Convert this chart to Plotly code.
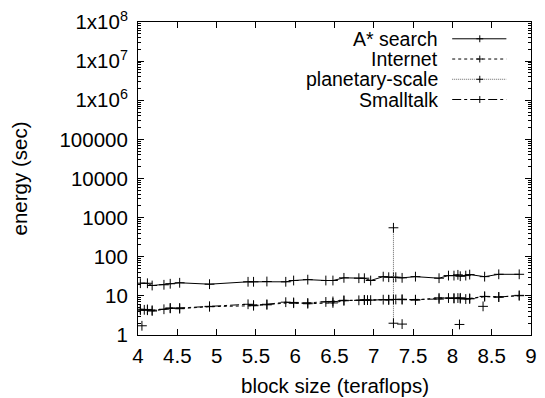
import plotly.graph_objects as go

# ---- data ----
astar_x = [4.03, 4.12, 4.18, 4.33, 4.41, 4.53, 4.91, 5.40, 5.47, 5.64, 5.88, 5.98, 6.16,
           6.39, 6.48, 6.62, 6.81, 6.88, 6.96, 7.12, 7.19, 7.25, 7.28, 7.36, 7.53, 7.83,
           7.95, 8.02, 8.07, 8.10, 8.17, 8.22, 8.41, 8.59, 8.85]
astar_y = [21.1, 21.0, 18.4, 19.2, 20.4, 21.6, 19.9, 22.9, 22.9, 23.3, 22.9, 24.7, 26.0,
           24.7, 24.7, 28.9, 28.3, 28.3, 24.7, 31.0, 30.0, 30.0, 30.0, 28.9, 31.0, 28.3,
           33.0, 33.0, 34.5, 31.8, 33.0, 35.0, 31.0, 35.6, 35.6]

internet_x = [4.03, 4.12, 4.18, 4.41, 4.53, 4.91, 5.47, 5.64, 5.98, 6.16, 6.48, 6.62,
              6.88, 7.19, 7.36, 7.53, 7.83, 8.02, 8.10, 8.22, 8.41, 8.59, 8.85]
internet_y = [4.3, 4.5, 4.1, 4.8, 4.7, 5.3, 5.6, 5.9, 6.8, 6.3, 6.6, 7.5,
              7.9, 7.9, 8.2, 7.8, 8.9, 8.7, 8.9, 8.4, 9.6, 9.4, 10.1]

planet_x = [4.05, None, 7.25, 7.25, None, 7.36, None, 8.09, None, 8.39]
planet_y = [1.72, None, 2.0, 550, None, 1.9, None, 1.86, None, 5.4]

small_x = [4.03, 4.08, 4.12, 4.18, 4.33, 4.41, 4.53, 4.91, 5.40, 5.47, 5.64, 5.88, 5.98,
           6.16, 6.39, 6.48, 6.62, 6.81, 6.88, 6.92, 6.96, 7.12, 7.19, 7.25, 7.28, 7.36,
           7.53, 7.83, 7.95, 8.02, 8.07, 8.10, 8.17, 8.22, 8.41, 8.59, 8.85]
small_y = [4.55, 4.4, 4.3, 4.3, 4.55, 4.9, 4.9, 5.4, 6.1, 5.8, 6.1, 6.9, 6.5,
           6.6, 7.0, 7.2, 7.7, 7.7, 7.8, 7.8, 7.8, 8.0, 8.0, 8.1, 8.1, 8.0,
           8.0, 8.3, 8.8, 8.6, 8.8, 8.5, 8.3, 8.6, 9.7, 9.3, 10.3]

series_names = ["A* search", "Internet", "planetary-scale", "Smalltalk"]
x_ticks = [4, 4.5, 5, 5.5, 6, 6.5, 7, 7.5, 8, 8.5, 9]
y_ticks = [1, 10, 100, 1000, 10000, 100000, 1e6, 1e7, 1e8]
y_tick_text = ["1", "10", "100", "1000", "10000", "100000",
               "1x10<sup>6</sup>", "1x10<sup>7</sup>", "1x10<sup>8</sup>"]
x_title = "block size (teraflops)"
y_title = "energy (sec)"

FONT = "Liberation Sans, Arial, sans-serif"
FS = 20.5
FS_KEY = 19.5

styles = [
    dict(dash="solid", color="black"),
    dict(dash="dot", color="black"),
    dict(dash="1px,1px", color="#666666"),
    dict(dash="dashdot", color="black"),
]
data = [(astar_x, astar_y), (internet_x, internet_y), (planet_x, planet_y), (small_x, small_y)]

fig = go.Figure()
for (xs, ys), name, st in zip(data, series_names, styles):
    fig.add_trace(go.Scatter(
        x=xs, y=ys, name=name, mode="lines+markers", connectgaps=False,
        line=dict(color=st["color"], width=1, dash=st["dash"]),
        marker=dict(symbol="cross-thin", size=7, line=dict(color="black", width=1)),
        showlegend=False, hoverinfo="skip",
    ))

minor_vals = []
for k in range(0, 8):
    for m in range(2, 10):
        minor_vals.append(m * 10 ** k)

fig.update_xaxes(
    range=[4, 9], tickvals=x_ticks, ticktext=[f"{v:g}" for v in x_ticks],
    ticks="inside", ticklen=6, tickcolor="black", mirror="allticks",
    showline=True, linecolor="black", linewidth=1, showgrid=False, zeroline=False,
    ticklabelstandoff=2,
    tickfont=dict(family=FONT, size=FS, color="black"),
)
fig.update_yaxes(
    type="log", range=[0, 8], tickvals=y_ticks, ticktext=y_tick_text,
    ticks="inside", ticklen=6, tickcolor="black", mirror="allticks",
    showline=True, linecolor="black", linewidth=1, showgrid=False, zeroline=False,
    ticklabelstandoff=5,
    minor=dict(tickvals=minor_vals, ticks="inside", ticklen=3, tickcolor="black", showgrid=False),
    title=dict(text=y_title, font=dict(family=FONT, size=FS, color="black"), standoff=26),
    tickfont=dict(family=FONT, size=FS, color="black"),
)

L, R, T, B = 138, 537, 18, 335
W, H = R - L, B - T
def px(x): return (x - L) / W
def py(y): return (B - y) / H

fig.add_annotation(x=0.5, y=py(386), xref="paper", yref="paper", text=x_title,
                   showarrow=False, xanchor="center", yanchor="middle",
                   font=dict(family=FONT, size=FS, color="black"))

# gnuplot-style key (text then sample) in the top-right corner
leg_y = [35, 55.5, 76, 96.5]
for name, st, yy in zip(series_names, styles, leg_y):
    fig.add_annotation(x=px(444), y=py(yy), xref="paper", yref="paper", text=name,
                       showarrow=False, xanchor="right", yanchor="middle", borderpad=0,
                       font=dict(family=FONT, size=FS_KEY, color="black"))
    fig.add_shape(type="line", xref="paper", yref="paper", x0=px(457), x1=px(512),
                  y0=py(yy), y1=py(yy), line=dict(color=st["color"], width=1, dash=st["dash"]))
    fig.add_shape(type="line", xref="paper", yref="paper", x0=px(481.5), x1=px(488.5),
                  y0=py(yy), y1=py(yy), line=dict(color="black", width=1))
    fig.add_shape(type="line", xref="paper", yref="paper", x0=px(485), x1=px(485),
                  y0=py(yy - 3.5), y1=py(yy + 3.5), line=dict(color="black", width=1))

fig.update_layout(
    width=545, height=398,
    margin=dict(l=L, r=545 - R, t=T, b=398 - B),
    plot_bgcolor="white", paper_bgcolor="white",
    font=dict(family=FONT, size=FS, color="black"),
    showlegend=False, hovermode=False,
)
fig.write_html("out.html", config={"displayModeBar": False, "staticPlot": True},
               post_script="document.body.style.margin='0';document.body.style.overflow='hidden';")
